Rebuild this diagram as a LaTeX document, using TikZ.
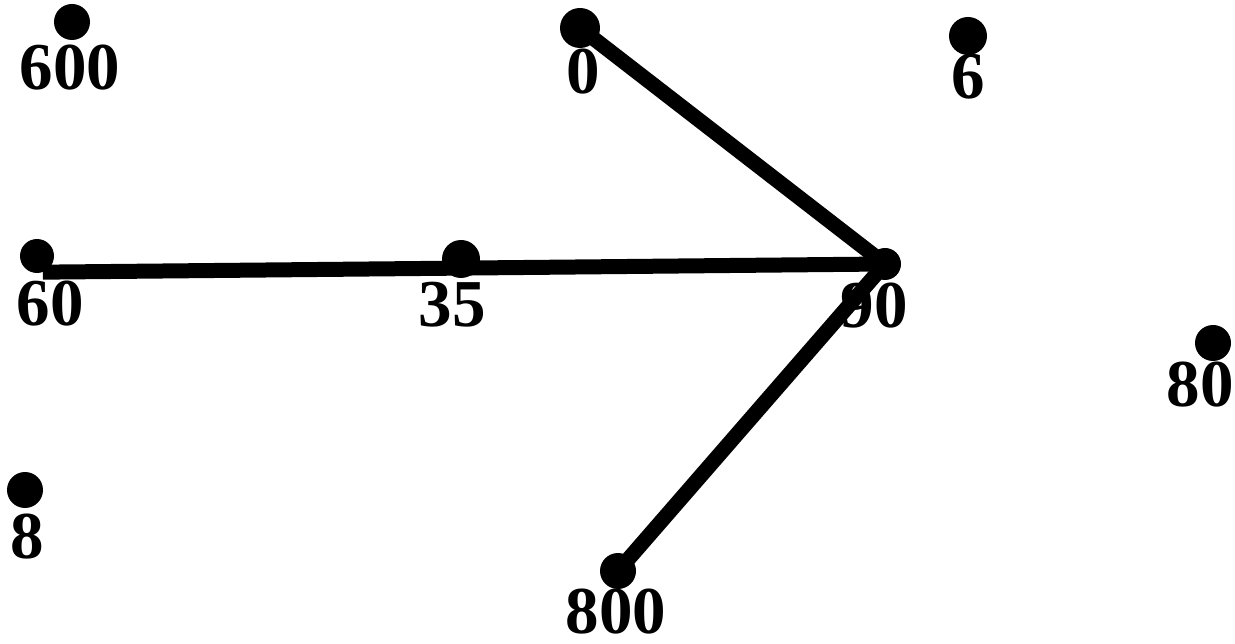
\documentclass[tikz,border=0pt]{standalone}
\usepackage{fontspec}
\setmainfont{Liberation Serif}
\begin{document}
\begin{tikzpicture}[x=1pt,y=-1pt,
  dot/.style={circle,fill=black,inner sep=0pt,minimum size=36pt},
  lbl/.style={inner sep=0pt,font=\fontsize{67}{67}\selectfont\bfseries},
  conn/.style={line width=15pt,black}]
\useasboundingbox (0,0) rectangle (1235,644);
% dots
\node[dot] (d600) at (72,22) {};
\node[dot,minimum size=40pt] (d0) at (580,28) {};
\node[dot,minimum size=38pt] (d6) at (968,36) {};
\node[dot,minimum size=34pt] (d60) at (37,256) {};
\node[dot,minimum size=38pt] (d35) at (461,259) {};
\node[dot,minimum size=32pt] (d90) at (885,264) {};
\node[dot] (d80) at (1213,343) {};
\node[dot] (d8) at (25,490) {};
\node[dot] (d800) at (618,571) {};
% labels
\node[lbl] (l600) at (70,68) {600};
\node[lbl] (l0) at (583,72) {0};
\node[lbl] (l6) at (968,77) {6};
\node[lbl] (l60) at (50,304) {60};
\node[lbl] (l35) at (452,305) {35};
\node[lbl] (l90) at (874,306) {90};
\node[lbl] (l80) at (1200,385) {80};
\node[lbl] (l8) at (27,537) {8};
\node[lbl] (l800) at (616,612) {800};
% connectors
\draw[conn] (d60.-70) -- (d90.center);
\draw[conn] (d0.center) -- (d90.center);
\draw[conn] (d800.center) -- (d90.center);
\end{tikzpicture}
\end{document}
